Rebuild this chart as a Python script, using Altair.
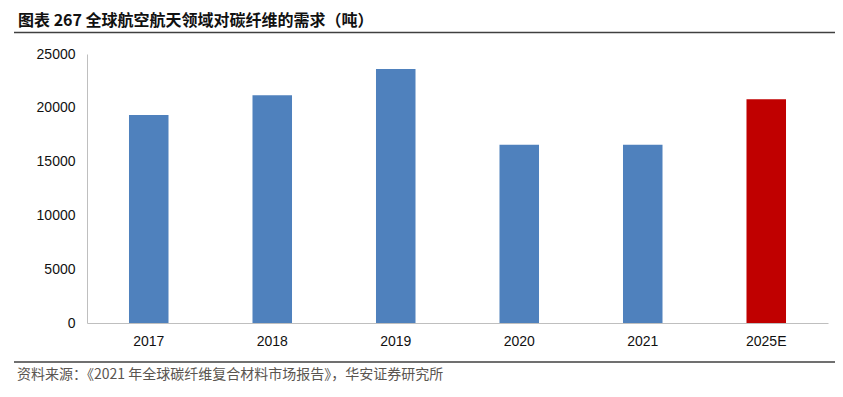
import altair as alt
import pandas as pd

years = ["2017", "2018", "2019", "2020", "2021", "2025E"]
demand = [19330, 21160, 23600, 16570, 16570, 20790]
y_ticks = [0, 5000, 10000, 15000, 20000, 25000]
title_text = "图表 267  全球航空航天领域对碳纤维的需求（吨）"
source_text = "资料来源：《2021 年全球碳纤维复合材料市场报告》，华安证券研究所"

df = pd.DataFrame({"year": years, "demand": demand})

bars = alt.Chart(df).mark_bar().encode(
    x=alt.X("year:N", sort=years,
            scale=alt.Scale(paddingInner=0.68, paddingOuter=0.34),
            axis=alt.Axis(title=None, labelAngle=0, ticks=False, domainColor="#bfbfbf",
                          labelFont="Liberation Sans", labelFontSize=14, labelColor="#111111",
                          labelPadding=11)),
    y=alt.Y("demand:Q", scale=alt.Scale(domain=[0, 25000], nice=False),
            axis=alt.Axis(title=None, values=y_ticks, format="d", grid=False, ticks=False,
                          domainColor="#bfbfbf", labelFont="Liberation Sans", labelFontSize=14,
                          labelColor="#111111", labelPadding=12)),
    color=alt.condition(alt.datum.year == "2025E", alt.value("#c00000"), alt.value("#4f81bd")),
)

title_df = pd.DataFrame({"t": [title_text]})
title = alt.Chart(title_df).mark_text(
    align="left", baseline="middle", font="Noto Sans CJK SC", fontSize=16, fontWeight="bold",
    color="#111111"
).encode(text="t:N", x=alt.value(-69), y=alt.value(-33))

title_line = alt.Chart(title_df).mark_rule(color="#404040", strokeWidth=1.5).encode(
    x=alt.value(-73), x2=alt.value(760), y=alt.value(-21.5))

src_df = pd.DataFrame({"t": [source_text]})
source = alt.Chart(src_df).mark_text(
    align="left", baseline="middle", font="Noto Sans CJK SC", fontSize=14, color="#5a5550"
).encode(text="t:N", x=alt.value(-70), y=alt.value(321))

src_line = alt.Chart(src_df).mark_rule(color="#404040", strokeWidth=1.5).encode(
    x=alt.value(-73), x2=alt.value(760), y=alt.value(308))

chart = alt.layer(bars, title_line, title, src_line, source).properties(
    width=741, height=269,
    autosize=alt.AutoSizeParams(type="none"),
    padding={"left": 79, "top": 46, "right": 7, "bottom": 66},
).configure_view(stroke="transparent")

chart.save("out.html", embed_options={"renderer": "svg", "actions": False})
